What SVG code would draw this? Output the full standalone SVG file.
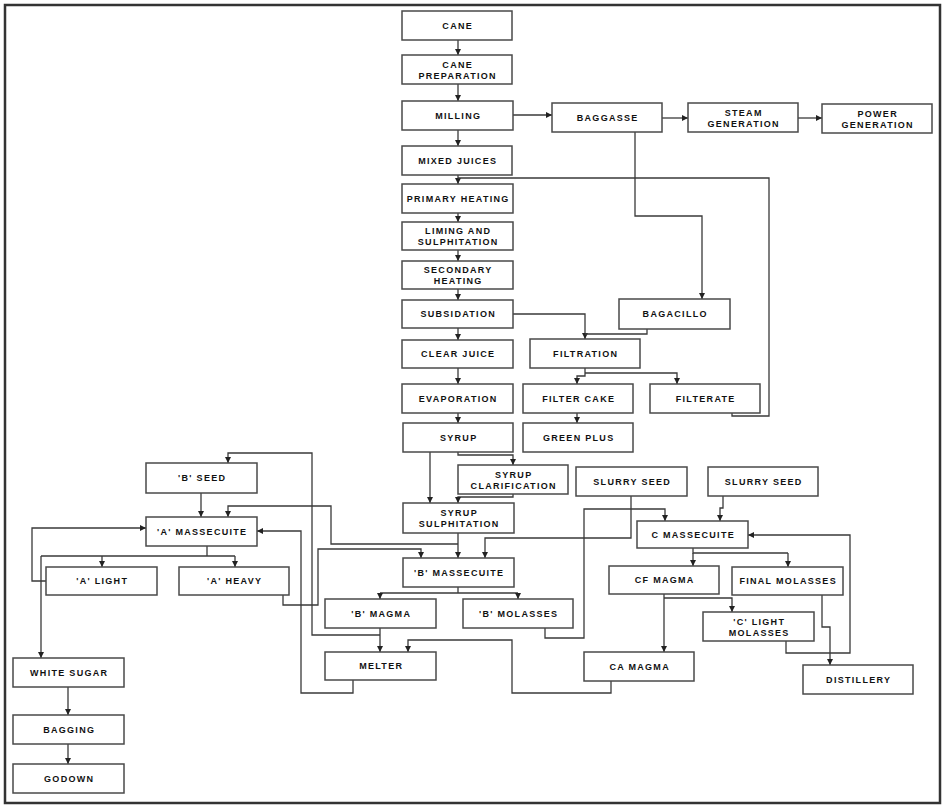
<svg xmlns="http://www.w3.org/2000/svg" width="944" height="808" viewBox="0 0 944 808">
<style>
.node rect{fill:#fff;stroke:#4a4a4a;stroke-width:1.5}
.node text{font-family:"Liberation Sans",Arial,sans-serif;font-weight:bold;font-size:9px;letter-spacing:1.3px;text-anchor:middle;fill:#111}
#connectors path{fill:none;stroke:#3a3a3a;stroke-width:1.3}
#connectors path.a{marker-end:url(#arr)}
</style>
<defs>
<marker id="arr" markerWidth="6" markerHeight="6" refX="6" refY="3" orient="auto" markerUnits="userSpaceOnUse">
<path d="M0,0 L6,3 L0,6 z" fill="#222"/>
</marker>
</defs>
<rect width="944" height="808" fill="#fff"/>
<rect x="5" y="5" width="935" height="798" fill="none" stroke="#333" stroke-width="2.5"/>

<g id="connectors">
<path class="a" d="M458,40 V55"/>
<path class="a" d="M458,84 V101"/>
<path class="a" d="M513,115 H552"/>
<path class="a" d="M662,118 H688"/>
<path class="a" d="M798,118 H822"/>
<path class="a" d="M458,130 V146"/>
<path class="a" d="M458,175 V184"/>
<path d="M732,413 V416 H769 V178 H458"/>
<path class="a" d="M458,213 V222"/>
<path class="a" d="M458,250 V261"/>
<path class="a" d="M458,289 V300"/>
<path class="a" d="M458,328 V340"/>
<path class="a" d="M458,368 V384"/>
<path class="a" d="M458,413 V423"/>
<path class="a" d="M513,314 H585 V339"/>
<path d="M647,329 V334 H585"/>
<path class="a" d="M635,132 V216 H702 V299"/>
<path class="a" d="M585,368 V376 H577 V384"/>
<path class="a" d="M585,373 H677 V384"/>
<path class="a" d="M577,413 V423"/>
<path class="a" d="M430,452 V503"/>
<path class="a" d="M458,452 V455 H513 V465"/>
<path class="a" d="M513,494 V497 H458 V503"/>
<path class="a" d="M458,533 V558"/>
<path class="a" d="M458,544 H331 V506 H228 V517"/>
<path class="a" d="M201,493 V517"/>
<path class="a" d="M380,635 H312 V453 H228 V463"/>
<path class="a" d="M353,680 V693 H301 V531 H257"/>
<path d="M207,546 V556 M41,556 H235"/>
<path class="a" d="M102,556 V567"/>
<path class="a" d="M235,556 V567"/>
<path class="a" d="M41,556 V658"/>
<path class="a" d="M46,581 H32 V528 H146"/>
<path class="a" d="M283,595 V605 H318 V549 H421 V558"/>
<path class="a" d="M631,496 V538 H485 V558"/>
<path d="M458,587 V593 M380,593 H518"/>
<path class="a" d="M380,593 V599"/>
<path class="a" d="M518,593 V599"/>
<path class="a" d="M380,628 V652"/>
<path class="a" d="M611,681 V693 H512 V640 H408 V652"/>
<path class="a" d="M545,628 V638 H584 V509 H665 V521"/>
<path class="a" d="M723,496 V508 H720 V521"/>
<path d="M693,548 V553 H788"/>
<path class="a" d="M693,553 V566"/>
<path class="a" d="M788,553 V567"/>
<path class="a" d="M664,594 V652"/>
<path class="a" d="M664,598 H732 V612"/>
<path class="a" d="M822,595 V627 H830 V665"/>
<path class="a" d="M786,641 V653 H850 V535 H748"/>
<path class="a" d="M68,687 V715"/>
<path class="a" d="M68,744 V764"/>
</g>

<g id="cane" class="node"><rect x="402" y="11" width="110" height="29"/><text x="457.7" y="28.5">CANE</text></g>
<g id="cane-preparation" class="node"><rect x="402" y="55" width="110" height="29"/><text x="457.7" y="67.5">CANE</text><text x="457.7" y="78.5">PREPARATION</text></g>
<g id="milling" class="node"><rect x="402" y="101" width="111" height="29"/><text x="458.2" y="118.5">MILLING</text></g>
<g id="baggasse" class="node"><rect x="552" y="103" width="110" height="29"/><text x="607.7" y="120.5">BAGGASSE</text></g>
<g id="steam-generation" class="node"><rect x="688" y="103" width="110" height="29"/><text x="743.7" y="115.5">STEAM</text><text x="743.7" y="126.5">GENERATION</text></g>
<g id="power-generation" class="node"><rect x="822" y="104" width="110" height="29"/><text x="877.7" y="116.5">POWER</text><text x="877.7" y="127.5">GENERATION</text></g>
<g id="mixed-juices" class="node"><rect x="402" y="146" width="110" height="29"/><text x="457.7" y="163.5">MIXED JUICES</text></g>
<g id="primary-heating" class="node"><rect x="402" y="184" width="111" height="29"/><text x="458.2" y="201.5">PRIMARY HEATING</text></g>
<g id="liming-sulphitation" class="node"><rect x="402" y="222" width="111" height="28"/><text x="458.2" y="234">LIMING AND</text><text x="458.2" y="245">SULPHITATION</text></g>
<g id="secondary-heating" class="node"><rect x="402" y="261" width="111" height="28"/><text x="458.2" y="273">SECONDARY</text><text x="458.2" y="284">HEATING</text></g>
<g id="subsidation" class="node"><rect x="402" y="300" width="111" height="28"/><text x="458.2" y="317">SUBSIDATION</text></g>
<g id="bagacillo" class="node"><rect x="619" y="299" width="111" height="30"/><text x="675.2" y="317">BAGACILLO</text></g>
<g id="clear-juice" class="node"><rect x="402" y="340" width="111" height="28"/><text x="458.2" y="357">CLEAR JUICE</text></g>
<g id="filtration" class="node"><rect x="530" y="339" width="110" height="29"/><text x="585.7" y="356.5">FILTRATION</text></g>
<g id="evaporation" class="node"><rect x="402" y="384" width="111" height="29"/><text x="458.2" y="401.5">EVAPORATION</text></g>
<g id="filter-cake" class="node"><rect x="523" y="384" width="110" height="29"/><text x="578.7" y="401.5">FILTER CAKE</text></g>
<g id="filterate" class="node"><rect x="650" y="384" width="110" height="29"/><text x="705.7" y="401.5">FILTERATE</text></g>
<g id="syrup" class="node"><rect x="403" y="423" width="110" height="29"/><text x="458.7" y="440.5">SYRUP</text></g>
<g id="green-plus" class="node"><rect x="523" y="423" width="110" height="29"/><text x="578.7" y="440.5">GREEN PLUS</text></g>
<g id="b-seed" class="node"><rect x="146" y="463" width="111" height="30"/><text x="202.2" y="481">'B' SEED</text></g>
<g id="syrup-clarification" class="node"><rect x="458" y="465" width="110" height="29"/><text x="513.7" y="477.5">SYRUP</text><text x="513.7" y="488.5">CLARIFICATION</text></g>
<g id="slurry-seed-1" class="node"><rect x="576" y="467" width="111" height="29"/><text x="632.2" y="484.5">SLURRY SEED</text></g>
<g id="slurry-seed-2" class="node"><rect x="708" y="467" width="110" height="29"/><text x="763.7" y="484.5">SLURRY SEED</text></g>
<g id="a-massecuite" class="node"><rect x="146" y="517" width="111" height="29"/><text x="202.2" y="534.5">'A' MASSECUITE</text></g>
<g id="syrup-sulphitation" class="node"><rect x="403" y="503" width="111" height="30"/><text x="459.2" y="516">SYRUP</text><text x="459.2" y="527">SULPHITATION</text></g>
<g id="c-massecuite" class="node"><rect x="637" y="521" width="111" height="27"/><text x="693.2" y="537.5">C MASSECUITE</text></g>
<g id="a-light" class="node"><rect x="46" y="567" width="111" height="28"/><text x="102.2" y="584">'A' LIGHT</text></g>
<g id="a-heavy" class="node"><rect x="179" y="567" width="110" height="28"/><text x="234.7" y="584">'A' HEAVY</text></g>
<g id="b-massecuite" class="node"><rect x="403" y="558" width="111" height="29"/><text x="459.2" y="575.5">'B' MASSECUITE</text></g>
<g id="cf-magma" class="node"><rect x="609" y="566" width="110" height="28"/><text x="664.7" y="583">CF MAGMA</text></g>
<g id="final-molasses" class="node"><rect x="732" y="567" width="111" height="28"/><text x="788.2" y="584">FINAL MOLASSES</text></g>
<g id="b-magma" class="node"><rect x="325" y="599" width="111" height="29"/><text x="381.2" y="616.5">'B' MAGMA</text></g>
<g id="b-molasses" class="node"><rect x="463" y="599" width="110" height="29"/><text x="518.7" y="616.5">'B' MOLASSES</text></g>
<g id="c-light-molasses" class="node"><rect x="703" y="612" width="111" height="29"/><text x="759.2" y="624.5">'C' LIGHT</text><text x="759.2" y="635.5">MOLASSES</text></g>
<g id="white-sugar" class="node"><rect x="13" y="658" width="111" height="29"/><text x="69.2" y="675.5">WHITE SUGAR</text></g>
<g id="melter" class="node"><rect x="325" y="652" width="111" height="28"/><text x="381.2" y="669">MELTER</text></g>
<g id="ca-magma" class="node"><rect x="584" y="652" width="110" height="29"/><text x="639.7" y="669.5">CA MAGMA</text></g>
<g id="distillery" class="node"><rect x="803" y="665" width="110" height="29"/><text x="858.7" y="682.5">DISTILLERY</text></g>
<g id="bagging" class="node"><rect x="13" y="715" width="111" height="29"/><text x="69.2" y="732.5">BAGGING</text></g>
<g id="godown" class="node"><rect x="13" y="764" width="111" height="29"/><text x="69.2" y="781.5">GODOWN</text></g>
</svg>
